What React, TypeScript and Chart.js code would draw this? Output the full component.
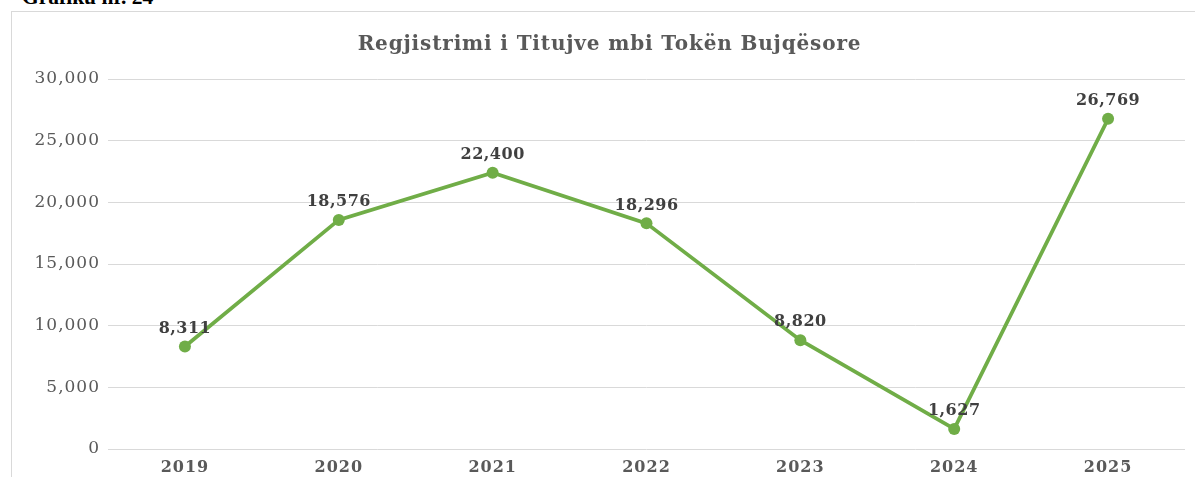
import React, { useEffect, useRef } from "react";
import { Chart, registerables } from "chart.js";

Chart.register(...registerables);

const caption = "Grafiku nr. 24";
const chartTitle = "Regjistrimi i Titujve mbi Tokën Bujqësore";
const categories = ["2019", "2020", "2021", "2022", "2023", "2024", "2025"];
const values = [8311, 18576, 22400, 18296, 8820, 1627, 26769];
const yMin = 0;
const yMax = 30000;
const yStep = 5000;

const FONT = '"DejaVu Serif", serif';
const fmt = (v: number) => v.toLocaleString("en-US");

const textPlugin = {
  id: "textPlugin",
  beforeDraw(chart: any) {
    chart.ctx.letterSpacing = "1px";
  },
  afterDatasetsDraw(chart: any) {
    const ctx = chart.ctx as CanvasRenderingContext2D;
    ctx.save();
    (ctx as any).letterSpacing = "0.5px";
    ctx.font = `bold 16px ${FONT}`;
    ctx.fillStyle = "#404040";
    ctx.textAlign = "center";
    ctx.textBaseline = "middle";
    const meta = chart.getDatasetMeta(0);
    meta.data.forEach((pt: any, i: number) => {
      ctx.fillText(fmt(values[i]), pt.x, pt.y - 18);
    });
    (ctx as any).letterSpacing = "0.85px";
    ctx.font = `bold 20px ${FONT}`;
    ctx.fillStyle = "#595959";
    ctx.fillText(chartTitle, chart.width / 2, 33);
    ctx.restore();
  },
};

export default function App() {
  const ref = useRef<HTMLCanvasElement | null>(null);
  useEffect(() => {
    if (!ref.current) return;
    const chart = new Chart(ref.current, {
      type: "line",
      data: {
        labels: categories,
        datasets: [
          {
            data: values,
            borderColor: "#70AD47",
            backgroundColor: "#70AD47",
            borderWidth: 3.75,
            pointRadius: 6,
            pointBorderWidth: 0,
            pointBackgroundColor: "#70AD47",
            tension: 0,
          },
        ],
      },
      options: {
        animation: false,
        responsive: false,
        devicePixelRatio: 1,
        layout: { padding: { top: 67, right: 22, left: 0, bottom: 0 } },
        plugins: {
          legend: { display: false },
          title: { display: false },
          tooltip: { enabled: false },
        },
        scales: {
          x: {
            offset: true,
            grid: { display: false },
            border: { display: false },
            ticks: {
              color: "#595959",
              font: { family: FONT, size: 16, weight: "bold" },
              padding: 1,
              maxRotation: 0,
            },
            afterFit: (s: any) => {
              s.height = 28;
            },
          },
          y: {
            min: yMin,
            max: yMax,
            grid: { color: "#d9d9d9", lineWidth: 1, drawTicks: false },
            border: { display: false },
            ticks: {
              stepSize: yStep,
              color: "#595959",
              font: { family: FONT, size: 17 },
              padding: 8,
              callback: (v: any) => fmt(Number(v)),
            },
            afterFit: (s: any) => {
              s.width = 96;
            },
          },
        },
      },
      plugins: [textPlugin],
    });
    return () => chart.destroy();
  }, []);

  return (
    <div
      style={{
        position: "fixed",
        left: 0,
        top: 0,
        width: 1195,
        height: 477,
        overflow: "hidden",
        background: "#fff",
      }}
    >
      <div
        style={{
          position: "absolute",
          left: 22,
          top: -15,
          font: 'bold 21.5px "Liberation Serif", serif',
          lineHeight: "normal",
          color: "#000",
          whiteSpace: "nowrap",
        }}
      >
        {caption}
      </div>
      <div
        style={{
          position: "absolute",
          left: 11,
          top: 11,
          width: 1220,
          height: 520,
          border: "1px solid #d9d9d9",
          boxSizing: "border-box",
        }}
      />
      <canvas
        ref={ref}
        width={1195}
        height={465}
        style={{ position: "absolute", left: 12, top: 12, display: "block" }}
      />
    </div>
  );
}
